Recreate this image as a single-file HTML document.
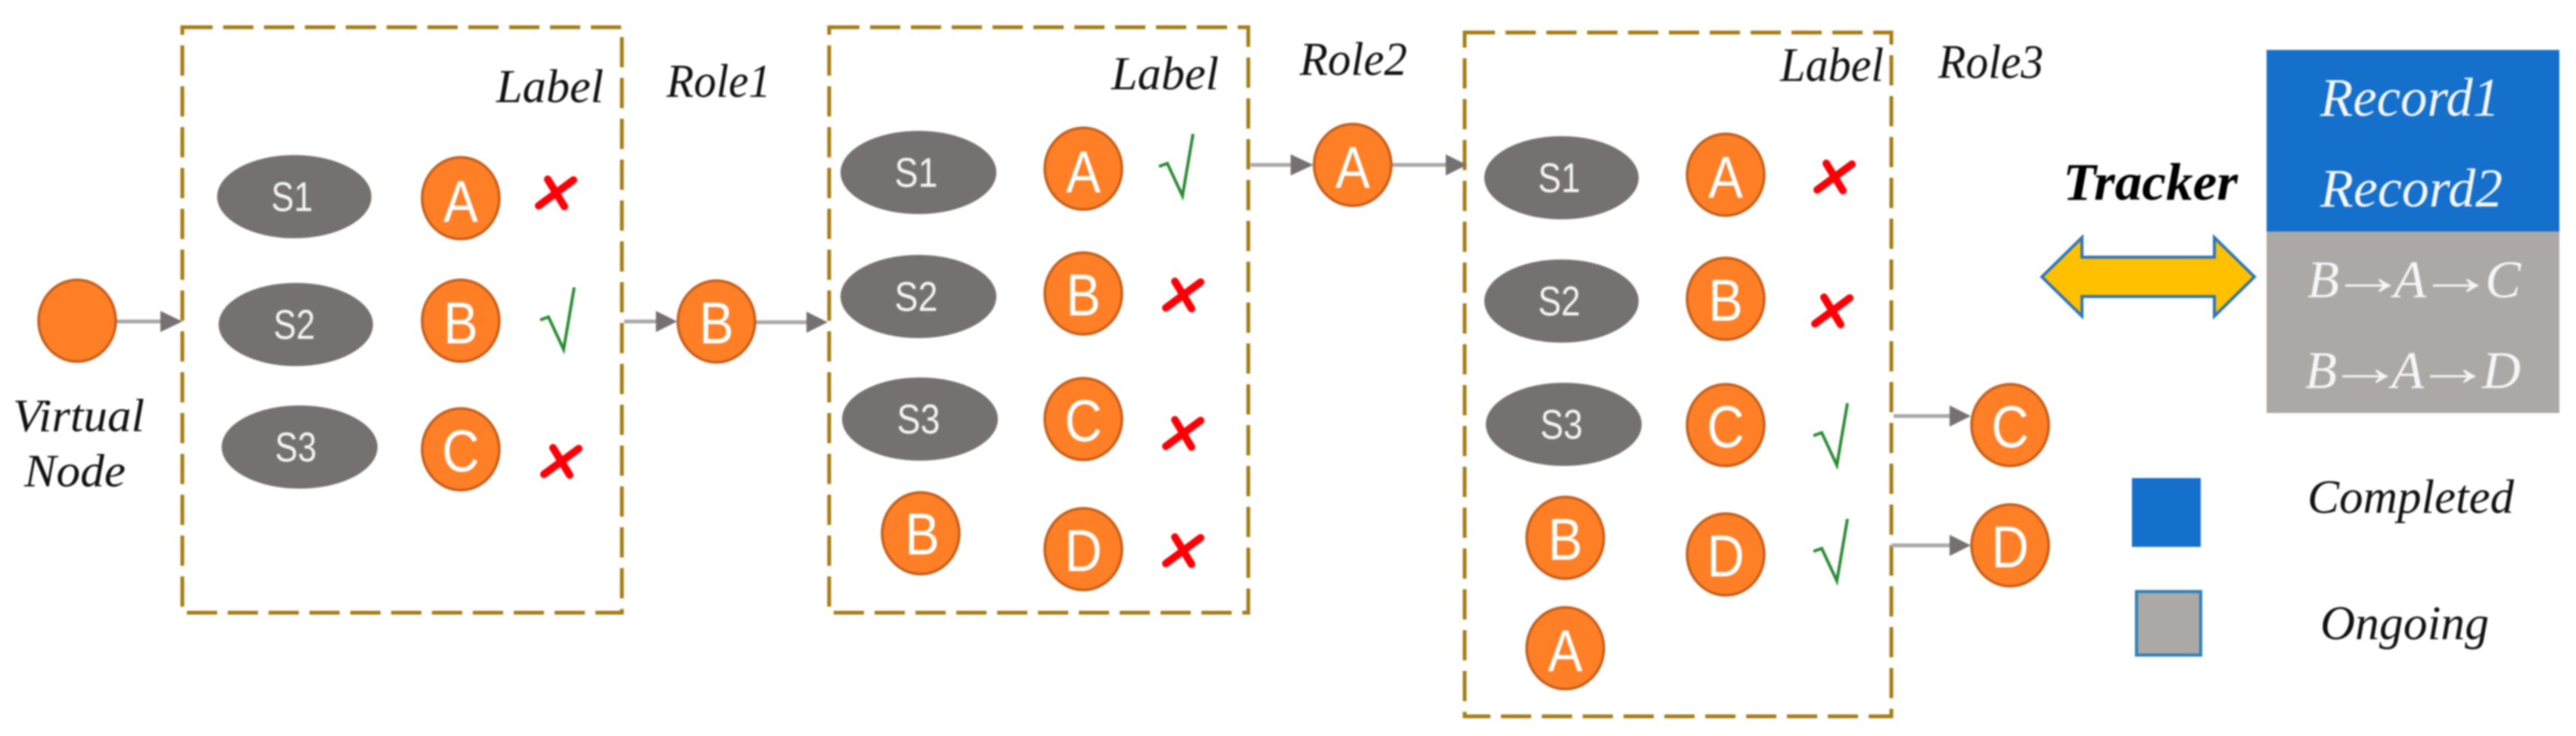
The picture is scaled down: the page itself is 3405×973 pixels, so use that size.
<!DOCTYPE html>
<html>
<head>
<meta charset="utf-8">
<style>
html,body{margin:0;padding:0;background:#fff;width:3405px;height:973px;overflow:hidden}
svg{display:block;filter:blur(1.1px)}
.box{fill:none;stroke:#a67c14;stroke-width:5;stroke-dasharray:40 14}
.n{fill:#fe7f26;stroke:#c55f1b;stroke-width:3.5}
.s{fill:#767171}
.l{font-family:"Liberation Sans",sans-serif;font-size:78px;fill:#fff;text-anchor:middle;transform-box:fill-box;transform-origin:center;transform:translateY(2px) scaleX(.88)}
.t{font-family:"Liberation Sans",sans-serif;font-size:55px;fill:#f4f4f4;text-anchor:middle}
.i{font-family:"Liberation Serif",serif;font-style:italic;fill:#111}
.w{font-family:"Liberation Serif",serif;font-style:italic;fill:#f6f6f6}
.ar{font-family:"Liberation Serif",serif;fill:#f6f6f6}
.ln{stroke:#a9a7a7;stroke-width:5;fill:none}
.hd{fill:#767171}
.x{stroke:#fb0007;stroke-width:10;stroke-linecap:round;fill:none}
.c{stroke:#2b8a34;stroke-width:4;fill:none;stroke-linejoin:miter}
</style>
</head>
<body>
<svg width="3405" height="973" viewBox="0 0 3405 973" xmlns="http://www.w3.org/2000/svg">
<defs>
<g id="xm"><path class="x" d="M-23 17L23-17M-11-18L11 18"/></g>
<g id="ck"><path class="c" d="M-45 43L-34 39L-14 82L0 0"/></g>
</defs>
<rect width="3405" height="973" fill="#fff"/>

<!-- boxes -->
<rect class="box" x="241" y="36" width="581" height="774"/>
<rect class="box" x="1096" y="36" width="554" height="774"/>
<rect class="box" x="1936" y="43" width="564" height="904"/>

<!-- connectors -->
<path class="ln" d="M154 425H214"/><path class="hd" d="M212 411L241 425L212 439Z"/>
<path class="ln" d="M825 425H869"/><path class="hd" d="M867 411L895 425L867 439Z"/>
<path class="ln" d="M999 426H1068"/><path class="hd" d="M1066 412L1094 426L1066 440Z"/>
<path class="ln" d="M1653 218H1708"/><path class="hd" d="M1706 204L1736 218L1706 232Z"/>
<path class="ln" d="M1840 218H1913"/><path class="hd" d="M1911 204L1939 218L1911 232Z"/>
<path class="ln" d="M2503 550H2579"/><path class="hd" d="M2577 536L2605 550L2577 564Z"/>
<path class="ln" d="M2500 721H2579"/><path class="hd" d="M2577 707L2605 721L2577 735Z"/>

<!-- virtual node -->
<ellipse class="n" cx="102" cy="424" rx="51" ry="54"/>
<text class="i" x="17" y="570" font-size="61" textLength="174" lengthAdjust="spacingAndGlyphs">Virtual</text>
<text class="i" x="32" y="643" font-size="61" textLength="134" lengthAdjust="spacingAndGlyphs">Node</text>

<!-- box 1 -->
<ellipse class="s" cx="389" cy="260" rx="102" ry="55"/><text class="t" x="386" y="279" textLength="55" lengthAdjust="spacingAndGlyphs">S1</text>
<ellipse class="s" cx="391" cy="429" rx="102" ry="55"/><text class="t" x="389" y="448" textLength="55" lengthAdjust="spacingAndGlyphs">S2</text>
<ellipse class="s" cx="396" cy="591" rx="103" ry="55"/><text class="t" x="391" y="610" textLength="55" lengthAdjust="spacingAndGlyphs">S3</text>
<ellipse class="n" cx="609" cy="262" rx="51" ry="54"/><text class="l" x="609" y="291">A</text>
<ellipse class="n" cx="609" cy="424" rx="51" ry="54"/><text class="l" x="609" y="452">B</text>
<ellipse class="n" cx="609" cy="594" rx="51" ry="54"/><text class="l" x="609" y="621">C</text>
<use href="#xm" x="735" y="255"/>
<use href="#ck" x="759" y="380"/>
<use href="#xm" x="742" y="610"/>
<text class="i" x="656" y="135" font-size="62" textLength="142" lengthAdjust="spacingAndGlyphs">Label</text>
<text class="i" x="881" y="128" font-size="62" textLength="138" lengthAdjust="spacingAndGlyphs">Role1</text>
<ellipse class="n" cx="947" cy="425" rx="51" ry="54"/><text class="l" x="947" y="452">B</text>

<!-- box 2 -->
<ellipse class="s" cx="1214" cy="228" rx="103" ry="55"/><text class="t" x="1211" y="247" textLength="57" lengthAdjust="spacingAndGlyphs">S1</text>
<ellipse class="s" cx="1214" cy="392" rx="103" ry="55"/><text class="t" x="1211" y="411" textLength="57" lengthAdjust="spacingAndGlyphs">S2</text>
<ellipse class="s" cx="1216" cy="554" rx="103" ry="55"/><text class="t" x="1214" y="573" textLength="57" lengthAdjust="spacingAndGlyphs">S3</text>
<ellipse class="n" cx="1217" cy="705" rx="51" ry="54"/><text class="l" x="1219" y="731">B</text>
<ellipse class="n" cx="1432" cy="223" rx="51" ry="54"/><text class="l" x="1432" y="252">A</text>
<ellipse class="n" cx="1432" cy="388" rx="51" ry="54"/><text class="l" x="1432" y="415">B</text>
<ellipse class="n" cx="1432" cy="554" rx="51" ry="54"/><text class="l" x="1432" y="581">C</text>
<ellipse class="n" cx="1432" cy="726" rx="51" ry="54"/><text class="l" x="1432" y="753">D</text>
<use href="#ck" x="1577" y="177"/>
<use href="#xm" x="1564" y="390"/>
<use href="#xm" x="1564" y="573"/>
<use href="#xm" x="1564" y="728"/>
<text class="i" x="1469" y="118" font-size="62" textLength="142" lengthAdjust="spacingAndGlyphs">Label</text>
<text class="i" x="1718" y="99" font-size="62" textLength="142" lengthAdjust="spacingAndGlyphs">Role2</text>
<ellipse class="n" cx="1788" cy="218" rx="51" ry="54"/><text class="l" x="1788" y="246">A</text>

<!-- box 3 -->
<ellipse class="s" cx="2064" cy="235" rx="102" ry="55"/><text class="t" x="2061" y="254" textLength="56" lengthAdjust="spacingAndGlyphs">S1</text>
<ellipse class="s" cx="2064" cy="398" rx="102" ry="55"/><text class="t" x="2061" y="417" textLength="56" lengthAdjust="spacingAndGlyphs">S2</text>
<ellipse class="s" cx="2067" cy="561" rx="103" ry="55"/><text class="t" x="2064" y="580" textLength="56" lengthAdjust="spacingAndGlyphs">S3</text>
<ellipse class="n" cx="2069" cy="711" rx="51" ry="54"/><text class="l" x="2069" y="738">B</text>
<ellipse class="n" cx="2069" cy="857" rx="51" ry="54"/><text class="l" x="2069" y="885">A</text>
<ellipse class="n" cx="2281" cy="231" rx="51" ry="54"/><text class="l" x="2281" y="259">A</text>
<ellipse class="n" cx="2281" cy="395" rx="51" ry="54"/><text class="l" x="2281" y="422">B</text>
<ellipse class="n" cx="2281" cy="562" rx="51" ry="54"/><text class="l" x="2281" y="589">C</text>
<ellipse class="n" cx="2281" cy="733" rx="51" ry="54"/><text class="l" x="2281" y="760">D</text>
<use href="#xm" x="2425" y="234"/>
<use href="#xm" x="2422" y="411"/>
<use href="#ck" x="2442" y="533"/>
<use href="#ck" x="2442" y="686"/>
<text class="i" x="2353" y="107" font-size="64" textLength="137" lengthAdjust="spacingAndGlyphs">Label</text>
<text class="i" x="2562" y="103" font-size="64" textLength="139" lengthAdjust="spacingAndGlyphs">Role3</text>
<ellipse class="n" cx="2657" cy="562" rx="51" ry="54"/><text class="l" x="2657" y="589">C</text>
<ellipse class="n" cx="2657" cy="721" rx="51" ry="54"/><text class="l" x="2657" y="748">D</text>

<!-- tracker -->
<text x="2727" y="264" font-family="Liberation Serif, serif" font-style="italic" font-weight="bold" font-size="70" fill="#000" textLength="231" lengthAdjust="spacingAndGlyphs">Tracker</text>
<path d="M2699 366L2752 314V340H2927V314L2980 366L2927 418V392H2752V418Z" fill="#ffc000" stroke="#2e75b6" stroke-width="4"/>

<rect x="2996" y="66" width="387" height="240" fill="#1570cb"/>
<rect x="2996" y="306" width="387" height="240" fill="#aca8a6"/>
<text class="w" x="3067" y="153" font-size="72" textLength="237" lengthAdjust="spacingAndGlyphs">Record1</text>
<text class="w" x="3067" y="273" font-size="72" textLength="241" lengthAdjust="spacingAndGlyphs">Record2</text>

<text class="w" x="3050" y="393" font-size="70" textLength="42" lengthAdjust="spacingAndGlyphs">B</text>
<text class="ar" x="3079" y="389" font-size="70" textLength="102" lengthAdjust="spacingAndGlyphs">→</text>
<text class="w" x="3164" y="393" font-size="70" textLength="43" lengthAdjust="spacingAndGlyphs">A</text>
<text class="ar" x="3195" y="389" font-size="70" textLength="102" lengthAdjust="spacingAndGlyphs">→</text>
<text class="w" x="3285" y="393" font-size="70" textLength="47" lengthAdjust="spacingAndGlyphs">C</text>

<text class="w" x="3047" y="513" font-size="70" textLength="42" lengthAdjust="spacingAndGlyphs">B</text>
<text class="ar" x="3075" y="509" font-size="70" textLength="102" lengthAdjust="spacingAndGlyphs">→</text>
<text class="w" x="3161" y="513" font-size="70" textLength="43" lengthAdjust="spacingAndGlyphs">A</text>
<text class="ar" x="3191" y="509" font-size="70" textLength="102" lengthAdjust="spacingAndGlyphs">→</text>
<text class="w" x="3281" y="513" font-size="70" textLength="51" lengthAdjust="spacingAndGlyphs">D</text>

<!-- legend -->
<rect x="2818" y="632" width="91" height="91" fill="#1570cb"/>
<rect x="2824" y="782" width="85" height="84" fill="#aca8a6" stroke="#2e80b8" stroke-width="4"/>
<text class="i" x="3050" y="678" font-size="63" textLength="273" lengthAdjust="spacingAndGlyphs">Completed</text>
<text class="i" x="3067" y="845" font-size="63" textLength="223" lengthAdjust="spacingAndGlyphs">Ongoing</text>
</svg>
</body>
</html>
